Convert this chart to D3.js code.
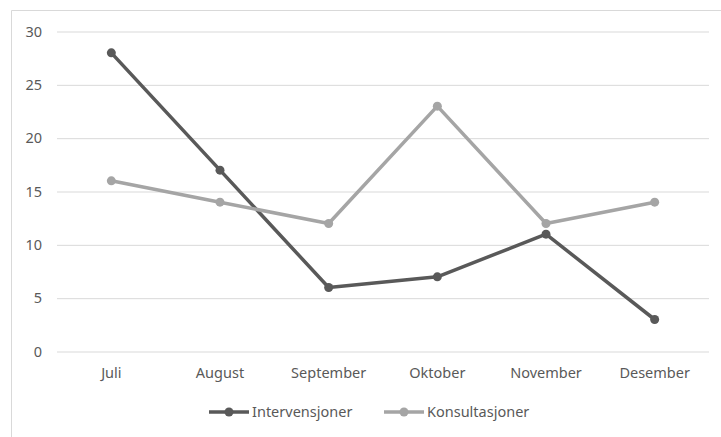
<!DOCTYPE html>
<html>
<head>
<meta charset="utf-8">
<script src="https://cdn.jsdelivr.net/npm/d3@7"></script>
<style>
  body { margin: 0; background: #fff; }
  text { font-family: "Noto Sans", sans-serif; fill: #595959; }
</style>
</head>
<body>
<div id="chart"></div>
<script>
// months and values per series
var months = ["Juli", "August", "September", "Oktober", "November", "Desember"]
var intervensjoner = [28, 17, 6, 7, 11, 3]
var konsultasjoner = [16, 14, 12, 23, 12, 14]
var yTicks = [0, 5, 10, 15, 20, 25, 30]

var series = [
    { name: "Intervensjoner", values: intervensjoner, color: "#595959" },
    { name: "Konsultasjoner", values: konsultasjoner, color: "#a5a5a5" }
]

var width = 721
var height = 437
var margin = ({ top: 31.5, right: 12, bottom: 85.5, left: 57 })
var fontSize = 14.5

var svg = d3.select("#chart")
    .append("svg")
    .attr("width", width)
    .attr("height", height)

// chart area border (left and top visible)
svg.append("path")
    .attr("d", "M11.5," + height + "V10.5H" + width)
    .attr("fill", "none")
    .attr("stroke", "#d9d9d9")

var x = d3.scaleBand()
    .domain(months)
    .range([margin.left, width - margin.right])

var y = d3.scaleLinear()
    .domain([0, 30])
    .range([height - margin.bottom, margin.top])

// gridlines + y labels
var yAxis = g => g
    .attr("transform", `translate(${margin.left},0)`)
    .call(d3.axisLeft(y).tickValues(yTicks).tickSize(-(width - margin.left - margin.right)).tickPadding(15))
    .call(g => g.select(".domain").remove())
    .call(g => g.selectAll(".tick line").attr("stroke", "#d9d9d9"))
    .call(g => g.selectAll(".tick text").attr("font-size", fontSize).style("font-family", "'Noto Sans', sans-serif").attr("fill", "#595959"))

var xAxis = g => g
    .attr("transform", `translate(0,${height - margin.bottom})`)
    .call(d3.axisBottom(x).tickSize(0).tickPadding(16))
    .call(g => g.select(".domain").remove())
    .call(g => g.selectAll(".tick text").attr("font-size", fontSize).style("font-family", "'Noto Sans', sans-serif").attr("fill", "#595959"))

svg.append("g").call(yAxis)
svg.append("g").call(xAxis)

var line = d3.line()
    .x((d, i) => x(months[i]) + x.bandwidth() / 2)
    .y(d => y(d))

var lines = svg.append("g")
    .selectAll("g")
    .data(series)
    .join("g")

lines.append("path")
    .attr("fill", "none")
    .attr("stroke", d => d.color)
    .attr("stroke-width", 3.5)
    .attr("stroke-linejoin", "round")
    .attr("d", d => line(d.values))

lines.selectAll("circle")
    .data(d => d.values.map(v => ({ v: v, color: d.color })))
    .join("circle")
    .attr("cx", (d, i) => x(months[i]) + x.bandwidth() / 2)
    .attr("cy", d => y(d.v))
    .attr("r", 4.5)
    .attr("fill", d => d.color)

// legend
var legendX = [209, 384]
var legend = svg.append("g")
    .selectAll("g")
    .data(series)
    .join("g")
    .attr("transform", (d, i) => `translate(${legendX[i]},412)`)

legend.append("line")
    .attr("x1", 0).attr("x2", 40)
    .attr("stroke", d => d.color)
    .attr("stroke-width", 3.5)

legend.append("circle")
    .attr("cx", 20)
    .attr("r", 4.5)
    .attr("fill", d => d.color)

legend.append("text")
    .attr("x", 43)
    .attr("dy", "0.35em")
    .attr("font-size", fontSize)
    .text(d => d.name)
</script>
</body>
</html>
